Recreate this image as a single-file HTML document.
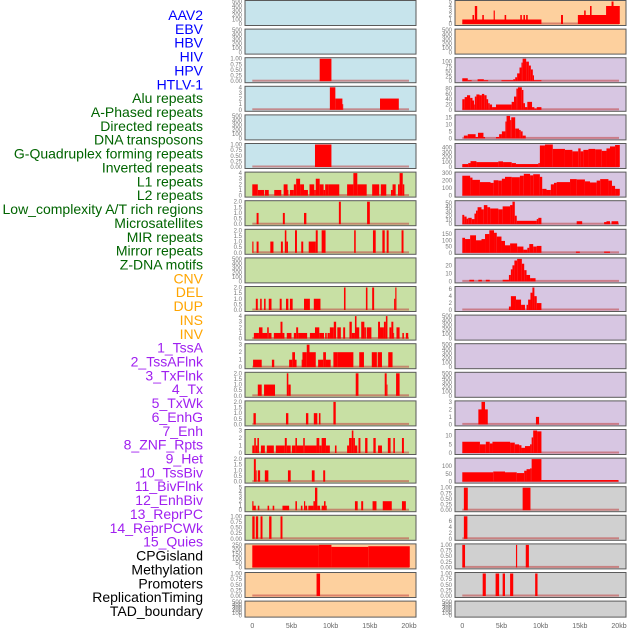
<!DOCTYPE html>
<html><head><meta charset="utf-8">
<style>
html,body{margin:0;padding:0;background:#fff;}
svg{display:block;font-family:"Liberation Sans",sans-serif;}
</style></head>
<body>
<svg id="chart" width="630" height="630" viewBox="0 0 630 630"></svg>
<script>
// ---- labels ----
const labels = ["AAV2","EBV","HBV","HIV","HPV","HTLV-1","Alu repeats","A-Phased repeats","Directed repeats","DNA transposons","G-Quadruplex forming repeats","Inverted repeats","L1 repeats","L2 repeats","Low_complexity A/T rich regions","Microsatellites","MIR repeats","Mirror repeats","Z-DNA motifs","CNV","DEL","DUP","INS","INV","1_TssA","2_TssAFlnk","3_TxFlnk","4_Tx","5_TxWk","6_EnhG","7_Enh","8_ZNF_Rpts","9_Het","10_TssBiv","11_BivFlnk","12_EnhBiv","13_ReprPC","14_ReprPCWk","15_Quies","CPGisland","Methylation","Promoters","ReplicationTiming","TAD_boundary"];
const labelGroups = [6,13,5,15,5];
const xTicks = [0,5,10,15,20];
const xTickLabels = ["0","5kb","10kb","15kb","20kb"];

// ---- tick arrays ----
const t500 = [0,100,200,300,400,500];
const t1 = [0,0.25,0.5,0.75,1];
const t1L = ["0.00","0.25","0.50","0.75","1.00"];
const t4 = [0,1,2,3,4];
const t2 = [0,0.5,1,1.5,2];
const t2L = ["0.0","0.5","1.0","1.5","2.0"];
const t3 = [0,1,2,3];
const t5 = [0,1,2,3,4,5];
const t250 = [0,50,100,150,200,250];

// ---- left column series: [startKb, endKb, value] ----
const segL2 = [[8.6,10.1,1]];
const segL3 = [[9.9,10.6,4],[10.6,11.5,2],[11.5,11.6,1],[16.3,18.7,2]];
const segL5 = [[8.0,10.1,1]];
const segL6 = [[0,0.7,2],[0.7,1.5,1],[1.6,2.1,1],[2.8,3.7,1],[4.0,4.5,2],[4.5,4.6,1],[4.8,5.3,1],[5.3,5.6,2],[5.6,6.1,3],[6.1,6.6,2],[6.6,7.1,1],[7.3,7.9,2],[7.9,8.1,1],[8.1,8.6,3],[8.6,9.1,2],[9.1,9.3,1],[9.3,9.7,2],[9.7,11.1,2],[12.1,12.9,2],[12.9,13.4,4],[13.4,14.6,2],[15.3,16.2,2],[16.4,17.1,2],[17.7,17.9,1],[17.9,18.3,2],[18.6,18.8,2],[18.8,19.2,4],[19.2,19.4,2]];
const segL7 = [[0.55,0.8,1],[3.9,4.15,1],[6.6,6.9,1],[11.05,11.3,2],[14.65,15.0,2]];
const segL8 = [[0,0.15,1],[0.55,0.8,1],[2.3,2.7,1],[3.65,3.9,1],[4.15,4.35,2],[4.35,4.55,1],[5.45,5.7,2],[6.25,6.5,1],[7.2,8.1,1],[8.1,8.35,2],[8.85,9.35,2],[13.0,13.2,2],[15.4,15.75,2],[16.6,16.9,2],[17.15,17.4,2],[19.05,19.3,2]];
const segL10 = [[0.45,0.7,1],[1.0,1.2,1],[1.5,1.7,1],[2.1,2.45,1],[3.5,3.75,1],[4.3,4.6,1],[4.8,5.15,1],[6.6,7.35,1],[7.85,8.7,1],[11.7,11.9,2],[14.5,14.7,2],[15.3,15.55,2],[18.1,18.25,1],[18.25,18.4,2]];
const segL11 = [[0.2,0.85,1],[0.85,1.3,2],[1.3,1.9,1],[1.9,2.1,2],[2.1,2.45,1],[2.75,3.6,1],[3.6,3.85,3],[3.85,4.1,1],[4.4,5.0,1],[5.3,5.6,1],[5.6,5.85,2],[5.85,7.0,1],[7.35,8.0,1],[8.0,8.55,2],[8.55,9.15,1],[9.3,9.5,1],[9.6,9.9,1],[9.9,10.4,2],[10.4,10.7,3],[10.85,11.3,2],[11.6,11.85,2],[12.4,12.7,3],[12.7,13.1,1],[13.1,13.3,4],[13.3,13.65,2],[13.9,14.3,3],[14.3,14.5,2],[14.6,15.2,2],[16.05,16.3,3],[16.3,16.8,2],[16.8,17.05,3],[17.05,17.25,4],[17.5,17.75,2],[17.75,18.0,3],[18.0,18.1,1],[18.4,18.8,2],[19.15,19.35,1],[19.6,19.9,1]];
const segL12 = [[0.1,1.2,1],[2.5,2.8,1],[4.7,5.1,1],[5.1,5.45,2],[5.45,5.65,1],[6.3,6.4,1],[6.4,6.95,2],[6.95,7.3,3],[7.3,8.1,2],[8.4,9.05,1],[9.05,9.4,2],[9.4,10.0,1],[10.35,10.85,2],[10.85,12.9,2],[13.65,14.25,2],[15.25,15.9,2],[16.0,16.55,2],[17.35,17.9,2]];
const segL13 = [[0.7,1.2,1],[1.5,2.9,1],[4.4,4.6,2],[4.6,4.9,1],[13.2,13.55,2],[16.9,17.15,2],[17.15,17.25,1],[18.35,18.8,2]];
const segL14 = [[0.15,0.45,1],[4.3,4.6,1],[6.85,7.15,1],[7.85,8.3,1],[8.5,8.7,1],[10.35,10.65,2]];
const segL15 = [[0,0.25,1],[0.25,0.45,2],[0.45,0.65,1],[0.65,0.85,2],[1.1,1.6,1],[1.85,2.75,1],[3.0,4.15,1],[4.15,4.4,2],[4.4,4.9,1],[5.05,5.5,1],[5.5,5.7,2],[5.7,6.5,1],[6.5,6.7,2],[6.7,8.2,1],[8.2,8.55,2],[8.55,8.85,1],[8.85,9.4,2],[9.4,9.9,1],[10.55,10.75,1],[12.1,12.35,1],[12.35,12.7,2],[12.7,12.9,3],[12.9,13.1,2],[13.1,13.4,1],[13.55,13.8,2],[14.4,14.7,2],[15.45,15.75,2],[16.05,16.55,1],[17.3,17.65,2],[18.0,18.2,2],[19.1,19.35,2]];
const segL16 = [[0.2,0.45,2],[0.45,0.55,1],[0.7,1.0,1],[1.6,2.05,1],[4.55,4.9,1],[7.6,7.95,1],[9.05,9.3,1]];
const segL17 = [[0,0.15,2],[0.15,0.45,1],[0.7,0.9,1],[1.95,2.15,1],[2.6,2.8,1],[3.85,4.7,1],[5.5,5.7,2],[6.2,6.4,1],[6.6,6.75,2],[6.75,7.0,1],[7.15,7.8,1],[7.8,8.0,2],[8.0,8.3,5],[8.3,8.65,1],[8.85,9.15,1],[9.15,9.35,2],[9.35,9.5,1],[13.1,13.45,2],[13.9,14.15,2],[15.35,15.85,2],[16.65,17.8,2],[19.1,19.6,2]];
const segL18 = [[0,0.3,1],[0.45,0.75,1],[1.05,1.3,1],[2.15,2.45,1],[3.6,3.85,1]];
const segL19 = [[0,8.5,245],[8.5,10.1,250],[10.1,14.8,228],[14.8,20.1,235]];
const segL20 = [[8.2,8.65,1]];

// ---- right column series ----
const segR0 = [[0,10.1,1],[1.3,1.5,2],[1.6,1.9,4],[2.55,2.75,2],[4.0,4.15,3],[5.4,5.6,2],[7.4,7.6,2],[7.8,8.0,2],[8.15,8.35,2],[12.6,12.85,2],[14.75,18.4,2],[15.55,15.75,3],[16.3,16.5,4],[18.35,20.1,4],[19.05,19.3,5]];
const segR2 = [[0,0.7,15],[0.7,1.2,5],[1.95,2.75,10],[2.75,3.3,5],[5.0,6.5,5],[6.5,6.75,10],[6.75,7.0,20],[7.0,7.3,40],[7.3,7.55,70],[7.55,7.7,95],[7.7,8.15,115],[8.15,8.5,100],[8.5,8.75,80],[8.75,9.0,60],[9.0,9.15,30],[9.15,10.1,5]];
const segR3 = [[0,0.3,40],[0.3,0.6,48],[0.6,1.0,55],[1.0,1.3,45],[1.3,1.5,35],[1.5,1.6,20],[1.6,1.8,50],[1.8,2.2,58],[2.2,2.5,55],[2.5,2.8,60],[2.8,3.1,55],[3.1,3.3,40],[3.3,3.5,25],[3.5,3.8,20],[3.8,4.3,10],[4.3,6.3,20],[6.3,6.6,30],[6.6,6.9,50],[6.9,7.1,80],[7.1,7.6,85],[7.6,7.8,75],[7.8,8.0,25],[8.0,8.3,10],[8.3,8.9,30],[8.9,9.2,10],[9.2,9.5,5],[9.5,10.1,10]];
const segR4 = [[0.2,0.7,2],[0.7,1.7,3],[1.7,2.0,1],[2.0,2.7,4],[2.7,2.9,1],[4.3,4.7,1],[4.7,5.05,3],[5.05,5.5,5],[5.5,5.65,12],[5.65,6.1,16],[6.1,6.25,13],[6.25,6.75,15],[6.75,7.25,7],[7.25,7.45,6],[7.45,7.7,5],[7.7,8.1,2]];
const segR5 = [[0,0.75,60],[0.75,1.05,80],[1.05,1.8,120],[1.8,4.6,100],[4.6,5.2,115],[5.2,6.3,100],[6.3,6.85,80],[6.85,9.7,60],[9.7,9.9,80],[9.9,10.55,440],[10.55,11.55,460],[11.55,13.1,370],[13.1,14.05,350],[14.05,14.8,320],[14.8,15.1,380],[15.1,15.45,320],[15.45,16.1,350],[16.1,16.95,370],[16.95,17.8,360],[17.8,18.4,330],[18.4,18.85,380],[18.85,19.5,420],[19.5,20.1,450]];
const segR6 = [[0,1.0,265],[1.0,1.3,240],[1.3,2.25,210],[2.25,3.6,180],[3.6,4.0,170],[4.0,4.6,205],[4.6,5.05,200],[5.05,5.45,225],[5.45,6.3,250],[6.3,7.35,245],[7.35,7.85,265],[7.85,8.65,290],[8.65,9.05,270],[9.05,9.9,285],[9.9,10.2,250],[10.2,10.75,90],[10.75,11.3,75],[11.3,11.7,150],[11.7,12.05,170],[12.05,13.75,180],[13.75,14.6,220],[14.6,15.65,215],[15.65,16.3,190],[16.3,17.15,175],[17.15,17.6,200],[17.6,18.65,220],[18.65,19.1,200],[19.1,19.5,130],[19.5,20.1,90]];
const segR7 = [[0,0.25,22],[0.25,0.55,18],[0.55,0.75,13],[0.75,1.2,15],[1.2,1.55,12],[1.55,1.75,25],[1.75,1.95,32],[1.95,2.45,40],[2.45,2.75,35],[2.75,3.2,45],[3.2,3.55,40],[3.55,4.6,37],[4.6,5.15,35],[5.15,6.1,42],[6.1,6.4,45],[6.4,6.7,53],[6.7,6.95,20],[6.95,9.5,8],[9.5,9.7,12],[9.7,10.1,15],[14.6,15.3,7],[18.1,18.4,5],[18.4,18.85,7],[19.05,19.9,7]];
const segR8 = [[0,0.35,120],[0.35,1.0,110],[1.0,1.75,140],[1.75,2.45,100],[2.45,2.9,110],[2.9,3.45,150],[3.45,4.05,180],[4.05,4.4,160],[4.4,5.0,130],[5.0,5.45,95],[5.45,6.1,60],[6.1,7.0,75],[7.0,7.8,50],[7.8,8.3,25],[8.3,8.55,40],[8.55,9.05,70],[9.05,9.5,50],[9.5,10.1,55],[14.5,15.0,10],[18.1,18.85,10]];
const segR9 = [[0.9,1.5,2],[2.05,2.5,2],[3.0,3.5,2],[5.15,5.95,2],[5.95,6.2,8],[6.2,6.4,15],[6.4,6.65,20],[6.65,7.0,26],[7.0,7.6,28],[7.6,7.9,22],[7.9,8.2,14],[8.2,8.65,8],[8.65,9.35,4]];
const segR10 = [[5.95,6.2,1],[6.2,6.85,4],[6.85,7.5,3],[7.5,8.0,1.5],[8.2,8.4,1.5],[8.4,8.7,3],[8.7,8.95,5],[8.95,9.2,6.5],[9.2,9.5,4],[9.5,10.1,2]];
const segR14 = [[2.05,2.45,2],[2.45,2.9,3],[2.9,3.25,2],[9.4,9.8,1]];
const segR15 = [[0,2.25,6.5],[2.25,3.0,5],[3.0,3.5,6.5],[3.5,3.85,5.5],[3.85,6.1,6.5],[6.1,6.7,6],[6.7,7.25,5],[7.25,7.55,4.5],[7.55,8.0,3],[8.0,8.65,4],[8.65,8.85,5],[8.85,9.05,9],[9.05,9.55,13],[9.55,10.1,12.5]];
const segR16 = [[0,3.95,60],[3.95,5.45,65],[5.45,6.95,60],[6.95,7.9,55],[7.9,8.2,70],[8.2,8.65,80],[8.65,8.85,85],[8.85,10.1,145],[10.1,19.9,10]];
const segR17 = [[0.2,0.7,1],[7.7,8.7,1]];
const segR18 = [[0.2,0.65,7.5]];
const segR19 = [[0,0.35,1],[6.85,7.0,1],[8.1,8.5,1]];
const segR20 = [[2.6,3.0,1],[4.25,4.7,1],[5.15,5.45,1],[6.1,6.5,1],[9.3,9.6,1]];

const BLUE="#c7e4ec", GREEN="#c8e0a4", PEACH="#fdd09e", LAV="#d7c6e2", GRAY="#d0d0d0";
const leftPanels = [
 {n:"aav2",s:[],t:t500,bg:BLUE},{n:"ebv",s:[],t:t500,bg:BLUE},{n:"hiv",s:segL2,t:t1,tl:t1L,bg:BLUE},
 {n:"htlv",s:segL3,t:t4,bg:BLUE},{n:"directed",s:[],t:t500,bg:BLUE},{n:"g4",s:segL5,t:t1,tl:t1L,bg:BLUE},
 {n:"l1",s:segL6,t:t4,bg:GREEN},{n:"lowcomplex",s:segL7,t:t2,tl:t2L,bg:GREEN},{n:"mir",s:segL8,t:t2,tl:t2L,bg:GREEN},
 {n:"zdna",s:[],t:t500,bg:GREEN},{n:"del",s:segL10,t:t2,tl:t2L,bg:GREEN},{n:"ins",s:segL11,t:t4,bg:GREEN},
 {n:"tssa",s:segL12,t:t3,bg:GREEN},{n:"txflnk",s:segL13,t:t2,tl:t2L,bg:GREEN},{n:"txwk",s:segL14,t:t2,tl:t2L,bg:GREEN},
 {n:"enh",s:segL15,t:t3,bg:GREEN},{n:"het",s:segL16,t:t2,tl:t2L,bg:GREEN},{n:"bivflnk",s:segL17,t:t5,bg:GREEN},
 {n:"reprpc",s:segL18,t:t1,tl:t1L,bg:GREEN},{n:"cpg",s:segL19,t:t250,bg:PEACH},{n:"promoters",s:segL20,t:t1,tl:t1L,bg:PEACH},
 {n:"tad",s:[],t:t500,bg:PEACH}];
const rightPanels = [
 {n:"aav2",s:segR0,t:t5,bg:PEACH},{n:"ebv",s:[],t:t500,bg:PEACH},{n:"hiv",s:segR2,t:[0,25,50,75,100],bg:LAV},
 {n:"htlv",s:segR3,t:[0,20,40,60,80],bg:LAV},{n:"directed",s:segR4,t:[0,5,10,15],bg:LAV},{n:"g4",s:segR5,t:[0,100,200,300,400],bg:LAV},
 {n:"l1",s:segR6,t:[0,100,200,300],bg:LAV},{n:"lowcomplex",s:segR7,t:[0,10,20,30,40,50],bg:LAV},{n:"mir",s:segR8,t:[0,50,100,150],bg:LAV},
 {n:"zdna",s:segR9,t:[0,10,20],bg:LAV},{n:"del",s:segR10,t:[0,2,4,6],bg:LAV},{n:"ins",s:[],t:t500,bg:LAV},
 {n:"tssa",s:[],t:t500,bg:LAV},{n:"txflnk",s:[],t:t500,bg:LAV},{n:"txwk",s:segR14,t:t3,bg:LAV},
 {n:"enh",s:segR15,t:[0,5,10],bg:LAV},{n:"het",s:segR16,t:[0,50,100],bg:LAV},{n:"bivflnk",s:segR17,t:t1,tl:t1L,bg:GRAY},
 {n:"reprpc",s:segR18,t:[0,2,4,6],bg:GRAY},{n:"cpg",s:segR19,t:t1,tl:t1L,bg:GRAY},{n:"promoters",s:segR20,t:t1,tl:t1L,bg:GRAY},
 {n:"tad",s:[],t:t500,bg:GRAY}];

const NS="http://www.w3.org/2000/svg";
const svg=document.getElementById('chart');
function mk(tag,attrs,parent){const e=document.createElementNS(NS,tag);for(const k in attrs)e.setAttribute(k,attrs[k]);(parent||svg).appendChild(e);return e;}

// labels
const groupColors=["#0000ff","#006400","#ffa500","#a020f0","#000000"];
let gi=0,cnt=0;
labels.forEach((lab,i)=>{
  const t=mk('text',{x:203,y:15+i*13.86+5,'text-anchor':'end','font-size':14,fill:groupColors[gi]});
  t.textContent=lab;
  
  
  cnt++; if(cnt>=labelGroups[gi]){gi++;cnt=0;}
});

function drawColumn(panels,px,side){
  const pw=171, x0=px+7.3, x1=px+164;
  const xs=kb=>x0+(x1-x0)*kb/20;
  panels.forEach((p,i)=>{
    const top=i*28.6+0.5, h=(i===21)?16:25;
    const g=mk('g',{});
    
    
    const bg=mk('rect',{x:px,y:top,width:pw,height:h,fill:p.bg,stroke:'#5a5a5a','stroke-width':1},g);
    
    
    let vmax=p.t[p.t.length-1];
    p.s.forEach(s=>{if(s[2]>vmax)vmax=s[2];});
    const yb=top+h-1.5, yt=top+1;
    const ys=v=>yb-(yb-yt)*v/vmax;
    // baseline
    if(p.s.length){
      const bl=mk('rect',{x:xs(0),y:yb-1.5,width:xs(20)-xs(0),height:2,fill:'#c04040','fill-opacity':0.55},g);
      
      
    }
    p.s.forEach(s=>{
      const r=mk('rect',{x:xs(s[0]),y:ys(s[2]),width:Math.max(0.8,xs(s[1])-xs(s[0])),height:yb-ys(s[2]),fill:'#ff0000'},g);
      
      
    });
    p.t.forEach((tv,k)=>{
      const tt=mk('text',{x:px-3,y:ys(tv)+2,'text-anchor':'end','font-size':6,fill:'#777'},g);
      tt.textContent=p.tl?p.tl[k]:String(tv);
      
      
    });
  });
  xTicks.forEach((v,k)=>{
    const t=mk('text',{x:xs(v),y:628,'text-anchor':'middle','font-size':7,fill:'#666'});
    t.textContent=xTickLabels[k];
    
    
  });
}
drawColumn(leftPanels,245,'left');
drawColumn(rightPanels,455,'right');
</script>
</body></html>
